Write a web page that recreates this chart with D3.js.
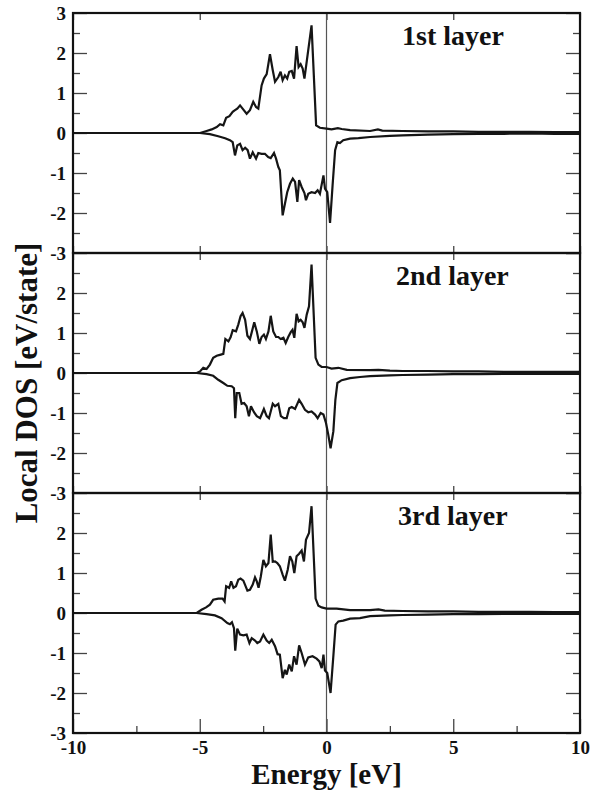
<!DOCTYPE html>
<html>
<head>
<meta charset="utf-8">
<script src="https://cdn.jsdelivr.net/npm/d3@7"></script>
<style>
  html, body { margin: 0; padding: 0; background: #fff; }
  svg { display: block; }
  text { font-family: "Liberation Serif", "Times New Roman", serif; font-weight: bold; fill: #111; }
</style>
</head>
<body>
<svg id="chart" width="601" height="790"></svg>
<script>
// Local density of states per layer: [energy (eV), DOS (states/eV)]
// positive = majority spin, negative = minority spin

const layer1Up = [[-10,0],[-8,0],[-6,0],[-4.99,0],[-4.73,0.05],[-4.53,0.09],[-4.33,0.15],[-4.20,0.22],[-4.07,0.19],
  [-3.96,0.38],[-3.83,0.42],[-3.70,0.53],[-3.61,0.57],[-3.52,0.61],[-3.41,0.69],[-3.31,0.61],[-3.15,0.48],[-3.02,0.57],
  [-2.89,0.78],[-2.78,0.65],[-2.69,0.61],[-2.56,1.19],[-2.47,1.36],[-2.36,1.47],[-2.23,1.97],[-2.12,1.57],[-2.03,1.28],
  [-1.90,1.40],[-1.81,1.53],[-1.73,1.32],[-1.64,1.44],[-1.55,1.36],[-1.47,1.53],[-1.37,1.55],[-1.28,1.36],[-1.18,2.17],
  [-1.10,1.65],[-1.02,1.72],[-0.94,1.61],[-0.87,1.36],[-0.59,2.69],[-0.41,0.19],[-0.26,0.13],[0,0.11],[0.2,0.09],
  [0.45,0.12],[0.6,0.1],[0.93,0.07],[1.72,0.05],[2.03,0.09],[2.2,0.06],[3,0.05],[4,0.04],[5,0.04],[6,0.03],[7,0.03],
  [8,0.03],[9,0.02],[10,0.02]];

const layer1Down = [[-10,0],[-8,0],[-6,0],[-4.99,0],[-4.60,-0.03],[-4.27,-0.08],[-4.00,-0.13],[-3.81,-0.18],[-3.70,-0.23],
  [-3.61,-0.56],[-3.52,-0.31],[-3.41,-0.27],[-3.31,-0.43],[-3.21,-0.37],[-3.11,-0.43],[-3.02,-0.64],[-2.91,-0.48],
  [-2.78,-0.64],[-2.69,-0.50],[-2.56,-0.52],[-2.43,-0.52],[-2.30,-0.60],[-2.20,-0.63],[-2.07,-0.50],[-1.99,-0.64],
  [-1.90,-0.85],[-1.84,-0.93],[-1.73,-2.06],[-1.64,-1.77],[-1.55,-1.48],[-1.44,-1.27],[-1.33,-1.14],[-1.24,-1.22],
  [-1.15,-1.72],[-1.08,-1.18],[-0.98,-1.35],[-0.87,-1.50],[-0.81,-1.68],[-0.72,-1.52],[-0.59,-1.48],[-0.45,-1.50],
  [-0.35,-1.43],[-0.26,-1.52],[-0.12,-1.06],[-0.06,-1.39],[0.03,-1.48],[0.14,-2.25],[0.24,-1.31],[0.34,-0.43],
  [0.43,-0.23],[0.53,-0.25],[0.66,-0.18],[0.93,-0.14],[1.26,-0.13],[1.72,-0.10],[2.5,-0.07],[3,-0.06],[4,-0.04],
  [5,-0.03],[6,-0.02],[7,-0.02],[8,-0.01],[9,-0.02],[10,-0.02]];

const layer2Up = [[-10,0],[-8,0],[-6,0],[-5.12,0],[-4.99,0.04],[-4.86,0.13],[-4.73,0.10],[-4.60,0.21],[-4.47,0.38],
  [-4.33,0.43],[-4.17,0.46],[-4.07,0.48],[-3.99,0.85],[-3.87,0.79],[-3.78,0.90],[-3.70,1.07],[-3.57,1.04],[-3.48,1.21],
  [-3.39,1.42],[-3.31,1.50],[-3.21,1.33],[-3.12,0.93],[-3.02,0.85],[-2.94,1.04],[-2.85,1.27],[-2.75,1.04],[-2.65,0.73],
  [-2.56,0.90],[-2.47,0.96],[-2.39,0.85],[-2.29,1.04],[-2.20,1.43],[-2.10,1.04],[-1.99,0.90],[-1.90,0.90],[-1.81,0.85],
  [-1.70,0.88],[-1.61,0.75],[-1.51,0.90],[-1.41,1.02],[-1.34,1.08],[-1.27,0.88],[-1.18,1.48],[-1.10,1.29],[-1.02,1.33],
  [-0.94,1.27],[-0.87,1.13],[-0.78,1.46],[-0.69,1.67],[-0.59,2.71],[-0.43,0.38],[-0.32,0.21],[-0.19,0.15],[0,0.15],
  [0.2,0.11],[0.47,0.13],[0.8,0.08],[1.72,0.07],[2.05,0.08],[2.5,0.06],[3,0.05],[4,0.05],[5,0.04],[6,0.04],[7,0.03],
  [8,0.03],[9,0.03],[10,0.03]];

const layer2Down = [[-10,0],[-8,0],[-6,0],[-5.12,0],[-4.73,-0.03],[-4.47,-0.07],[-4.27,-0.17],[-4.07,-0.25],[-3.91,-0.32],
  [-3.74,-0.33],[-3.65,-0.38],[-3.60,-1.13],[-3.54,-0.50],[-3.44,-0.50],[-3.35,-0.77],[-3.25,-0.75],[-3.15,-0.83],
  [-3.06,-1.08],[-2.98,-0.83],[-2.86,-0.98],[-2.75,-1.08],[-2.62,-1.13],[-2.47,-0.90],[-2.36,-1.08],[-2.27,-1.13],
  [-2.12,-0.77],[-2.03,-0.83],[-1.90,-0.77],[-1.80,-1.08],[-1.68,-1.13],[-1.57,-1.13],[-1.47,-0.88],[-1.37,-0.85],
  [-1.24,-0.90],[-1.08,-0.67],[-0.98,-0.77],[-0.85,-0.92],[-0.72,-0.98],[-0.59,-0.96],[-0.45,-1.04],[-0.35,-1.13],
  [-0.23,-1.00],[-0.12,-1.04],[-0.02,-1.25],[0.07,-1.54],[0.16,-1.88],[0.27,-1.46],[0.35,-0.67],[0.43,-0.25],
  [0.60,-0.18],[0.93,-0.13],[1.32,-0.10],[1.72,-0.08],[2.5,-0.06],[3,-0.05],[4,-0.04],[5,-0.03],[6,-0.03],[7,-0.02],
  [8,-0.02],[9,-0.02],[10,-0.02]];

const layer3Up = [[-10,0],[-8,0],[-6,0],[-5.12,0],[-4.93,0.08],[-4.75,0.14],[-4.60,0.21],[-4.47,0.33],[-4.27,0.36],
  [-4.10,0.36],[-4.02,0.29],[-3.96,0.67],[-3.84,0.63],[-3.76,0.79],[-3.67,0.63],[-3.57,0.67],[-3.48,0.83],[-3.39,0.86],
  [-3.28,0.81],[-3.12,0.56],[-3.02,0.58],[-2.91,0.71],[-2.82,0.89],[-2.75,0.79],[-2.68,0.63],[-2.59,0.92],[-2.49,1.33],
  [-2.39,1.17],[-2.29,1.25],[-2.20,1.96],[-2.12,1.28],[-2.03,1.29],[-1.94,1.25],[-1.84,1.17],[-1.73,0.96],[-1.64,0.81],
  [-1.53,1.08],[-1.44,1.42],[-1.35,1.29],[-1.27,1.00],[-1.18,1.42],[-1.08,1.48],[-0.98,1.56],[-0.89,1.29],[-0.81,1.83],
  [-0.69,2.00],[-0.59,2.67],[-0.43,0.36],[-0.32,0.18],[-0.19,0.14],[0,0.11],[0.40,0.11],[0.93,0.07],[1.72,0.07],
  [2.05,0.09],[2.3,0.06],[3,0.05],[4,0.04],[5,0.04],[6,0.03],[7,0.03],[8,0.03],[9,0.02],[10,0.02]];

const layer3Down = [[-10,0],[-8,0],[-6,0],[-5.12,0],[-4.73,-0.03],[-4.40,-0.06],[-4.14,-0.13],[-3.91,-0.25],[-3.81,-0.28],
  [-3.73,-0.23],[-3.65,-0.38],[-3.60,-0.94],[-3.52,-0.39],[-3.41,-0.54],[-3.28,-0.56],[-3.15,-0.54],[-3.04,-0.75],
  [-2.95,-0.63],[-2.82,-0.69],[-2.73,-0.75],[-2.62,-0.71],[-2.49,-0.54],[-2.36,-0.69],[-2.26,-0.75],[-2.16,-0.67],
  [-2.03,-0.83],[-1.93,-1.03],[-1.84,-1.04],[-1.73,-1.63],[-1.64,-1.42],[-1.57,-1.54],[-1.47,-1.29],[-1.37,-1.46],
  [-1.28,-1.08],[-1.18,-1.29],[-1.08,-0.81],[-0.98,-1.00],[-0.85,-1.29],[-0.72,-1.11],[-0.55,-1.08],[-0.39,-1.14],
  [-0.28,-1.21],[-0.19,-1.38],[-0.12,-1.04],[-0.06,-1.44],[0.03,-1.50],[0.16,-2.00],[0.27,-1.08],[0.36,-0.29],
  [0.47,-0.21],[0.66,-0.19],[0.93,-0.14],[1.32,-0.13],[1.72,-0.08],[2.5,-0.06],[3,-0.05],[4,-0.04],[5,-0.03],[6,-0.03],
  [7,-0.02],[8,-0.02],[9,-0.02],[10,-0.02]];

const panelLabels = ["1st layer", "2nd layer", "3rd layer"];
const panelSeries = [[layer1Up, layer1Down], [layer2Up, layer2Down], [layer3Up, layer3Down]];

const energyMajorTicks = [-10, -5, 0, 5, 10];
const energyMinorTicks = [-7.5, -2.5, 2.5, 7.5];
const dosMajorTicks = [3, 2, 1, 0, -1, -2, -3];
const dosMinorTicks = [2.5, 1.5, 0.5, -0.5, -1.5, -2.5];

const xTitle = "Energy [eV]";
const yTitle = "Local DOS [eV/state]";

// ---- layout ----
const plotLeft = 73, plotRight = 580, plotTop = 13, panelH = 240;
const labelX = [402, 396, 398];

const svg = d3.select("#chart");

const x = d3.scaleLinear().domain([-10, 10]).range([plotLeft, plotRight]);

const line = d3.line().x(d => x(d[0]));

svg.append("defs").append("clipPath").attr("id", "plotClip")
  .append("rect")
  .attr("x", plotLeft).attr("y", plotTop)
  .attr("width", plotRight - plotLeft).attr("height", panelH * 3);

function styleTicks(g, color, width) {
  g.select(".domain").remove();
  g.selectAll(".tick line").attr("stroke", color).attr("stroke-width", width);
}

panelSeries.forEach((series, i) => {
  const top = plotTop + i * panelH;
  const y = d3.scaleLinear().domain([-3, 3]).range([top + panelH, top]);
  const g = svg.append("g");

  // left axis: labels + inward ticks
  const labelTicks = i === 0 ? dosMajorTicks : dosMajorTicks.filter(v => v !== 3);
  g.append("g").attr("transform", `translate(${plotLeft},0)`)
    .call(d3.axisLeft(y).tickValues(labelTicks).tickSize(-14).tickPadding(7).tickFormat(d => String(d)))
    .call(a => styleTicks(a, "#444", 1.3))
    .call(a => a.selectAll("text").attr("font-size", 19).attr("font-family", null).attr("fill", "#111"));
  g.append("g").attr("transform", `translate(${plotLeft},0)`)
    .call(d3.axisLeft(y).tickValues(dosMinorTicks).tickSize(-7).tickFormat(""))
    .call(a => styleTicks(a, "#444", 1.3));

  // right axis: inward ticks, no labels
  g.append("g").attr("transform", `translate(${plotRight},0)`)
    .call(d3.axisRight(y).tickValues(dosMajorTicks).tickSize(-14).tickFormat(""))
    .call(a => styleTicks(a, "#444", 1.3));
  g.append("g").attr("transform", `translate(${plotRight},0)`)
    .call(d3.axisRight(y).tickValues(dosMinorTicks).tickSize(-7).tickFormat(""))
    .call(a => styleTicks(a, "#444", 1.3));

  // top edge of each panel: short major ticks pointing down
  g.append("g").attr("transform", `translate(0,${top})`)
    .call(d3.axisTop(x).tickValues(energyMajorTicks).tickSize(-7).tickFormat(""))
    .call(a => styleTicks(a, "#444", 1.3));

  if (i < 2) {
    // shared border between panels: short ticks pointing up
    g.append("g").attr("transform", `translate(0,${top + panelH})`)
      .call(d3.axisBottom(x).tickValues(energyMajorTicks).tickSize(-7).tickFormat(""))
      .call(a => styleTicks(a, "#444", 1.3));
  } else {
    g.append("g").attr("transform", `translate(0,${top + panelH})`)
      .call(d3.axisBottom(x).tickValues(energyMajorTicks).tickSize(-14).tickPadding(8).tickFormat(d => String(d)))
      .call(a => styleTicks(a, "#444", 1.3))
      .call(a => a.selectAll("text").attr("font-size", 19).attr("font-family", null).attr("fill", "#111")
        .attr("dy", "0.68em"));
    g.append("g").attr("transform", `translate(0,${top + panelH})`)
      .call(d3.axisBottom(x).tickValues(energyMinorTicks).tickSize(-7).tickFormat(""))
      .call(a => styleTicks(a, "#444", 1.3));
  }

  // Fermi level
  g.append("line")
    .attr("x1", x(0)).attr("x2", x(0))
    .attr("y1", y(3)).attr("y2", y(-3))
    .attr("stroke", "#555").attr("stroke-width", 1.2);

  // spin-resolved DOS curves
  const lineY = line.y(d => y(d[1]));
  series.forEach(s => {
    g.append("path")
      .datum(s)
      .attr("clip-path", "url(#plotClip)")
      .attr("fill", "none")
      .attr("stroke", "#151515")
      .attr("stroke-width", 2.2)
      .attr("stroke-linejoin", "miter")
      .attr("stroke-miterlimit", 3)
      .attr("d", lineY);
  });

  // panel frame
  g.append("rect")
    .attr("x", plotLeft).attr("y", top)
    .attr("width", plotRight - plotLeft).attr("height", panelH)
    .attr("fill", "none").attr("stroke", "#111").attr("stroke-width", 2.2);

  g.append("text")
    .attr("x", labelX[i]).attr("y", top + 32)
    .attr("font-size", 28)
    .text(panelLabels[i]);
});

// axis titles
svg.append("text")
  .attr("x", x(0)).attr("y", 784)
  .attr("text-anchor", "middle")
  .attr("font-size", 29)
  .text(xTitle);

svg.append("text")
  .attr("transform", `translate(37,${plotTop + panelH * 1.5 + 10}) rotate(-90)`)
  .attr("text-anchor", "middle")
  .attr("font-size", 31)
  .text(yTitle);
</script>
</body>
</html>
